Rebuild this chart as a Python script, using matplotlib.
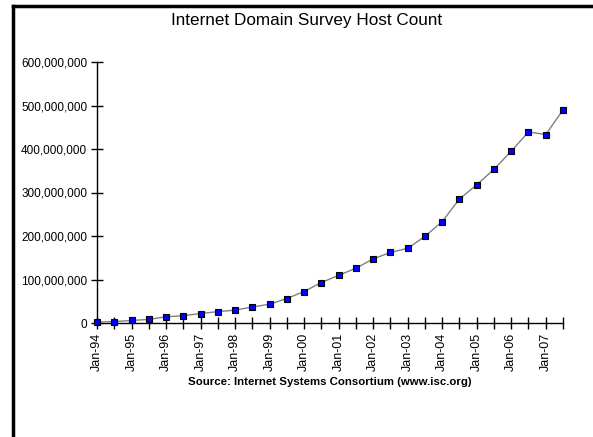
import matplotlib
matplotlib.use("Agg")
import matplotlib.pyplot as plt
from matplotlib.lines import Line2D

plt.rcParams['font.family'] = ['Liberation Sans', 'DejaVu Sans']

# semiannual survey dates, Jan-94 .. Jul-07
dates = ["Jan-94", "Jul-94", "Jan-95", "Jul-95", "Jan-96", "Jul-96", "Jan-97", "Jul-97",
         "Jan-98", "Jul-98", "Jan-99", "Jul-99", "Jan-00", "Jul-00", "Jan-01", "Jul-01",
         "Jan-02", "Jul-02", "Jan-03", "Jul-03", "Jan-04", "Jul-04", "Jan-05", "Jul-05",
         "Jan-06", "Jul-06", "Jan-07", "Jul-07"]
hosts = [2217000, 3212000, 5846000, 8200000, 14352000, 16729000, 21819000, 26053000,
         29670000, 36739000, 43230000, 56218000, 72398092, 93047785, 109574429, 125888197,
         147344723, 162128493, 171638297, 199000000, 233101481, 285139107, 317646084, 353284187,
         394991609, 439286364, 433193199, 489774269]
yticks = [0, 100000000, 200000000, 300000000, 400000000, 500000000, 600000000]

fig = plt.figure(figsize=(5.93, 4.37), dpi=100)
ax = fig.add_axes([97/593, 1-323/437, 466/593, 261/437])

x = list(range(len(dates)))
ax.plot(x, hosts, color="#808080", lw=1, marker="s", markersize=5,
        markerfacecolor="#0000ff", markeredgecolor="black", markeredgewidth=0.8,
        clip_on=False, zorder=3)

ax.set_xlim(0, len(dates) - 1)
ax.set_ylim(0, 600000000)
ax.set_yticks(yticks)
ax.set_yticklabels([f"{v:,}" for v in yticks], fontsize=8.5)
ax.set_xticks(x)
ax.set_xticklabels([d if i % 2 == 0 else "" for i, d in enumerate(dates)],
                   rotation=90, fontsize=9)
ax.tick_params(axis="both", direction="inout", length=8, width=1, color="black")
ax.tick_params(axis="y", pad=3)
ax.tick_params(axis="x", pad=3)
for s in ["top", "right"]:
    ax.spines[s].set_visible(False)
for s in ["left", "bottom"]:
    ax.spines[s].set_color("black")
    ax.spines[s].set_linewidth(1)

fig.text(307/593, 1-20/437, "Internet Domain Survey Host Count", ha="center", va="center", fontsize=12.3)
fig.text(330/593, 1-382/437, "Source: Internet Systems Consortium (www.isc.org)",
         ha="center", va="center", fontsize=8.2, fontweight="bold")

# outer frame (left and top edges visible)
fig.add_artist(Line2D([13/593, 13/593], [0, 1-6/437], color="black", lw=2.5))
fig.add_artist(Line2D([13/593, 1], [1-6/437, 1-6/437], color="black", lw=2.5))

fig.savefig("out.png", dpi=100)
